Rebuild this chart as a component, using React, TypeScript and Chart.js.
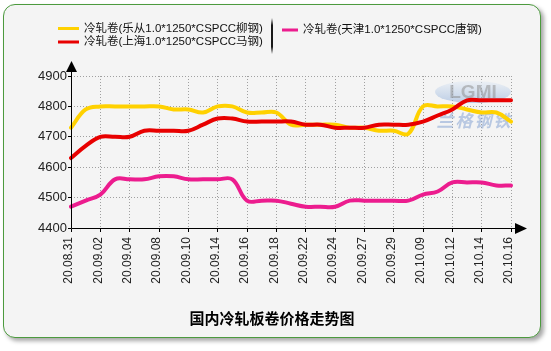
import React, { useEffect, useRef } from 'react';
import { Chart, registerables } from 'chart.js';

Chart.register(...registerables);

const dates = [
  '20.08.31', '20.09.01', '20.09.02', '20.09.03', '20.09.04', '20.09.07', '20.09.08', '20.09.09',
  '20.09.10', '20.09.11', '20.09.14', '20.09.15', '20.09.16', '20.09.17', '20.09.18', '20.09.21',
  '20.09.22', '20.09.23', '20.09.24', '20.09.25', '20.09.27', '20.09.28', '20.09.29', '20.09.30',
  '20.10.09', '20.10.10', '20.10.12', '20.10.13', '20.10.14', '20.10.15', '20.10.16',
];

const seriesNames = [
  '冷轧卷(乐从1.0*1250*CSPCC柳钢)',
  '冷轧卷(上海1.0*1250*CSPCC马钢)',
  '冷轧卷(天津1.0*1250*CSPCC唐钢)',
];

const lecong = [
  4730, 4790, 4800, 4800, 4800, 4800, 4800, 4790, 4790, 4780, 4800, 4800, 4780, 4780, 4780, 4740,
  4740, 4740, 4740, 4730, 4730, 4720, 4720, 4710, 4800, 4800, 4800, 4790, 4780, 4780, 4750,
];
const shanghai = [
  4630, 4670, 4700, 4700, 4700, 4720, 4720, 4720, 4720, 4740, 4760, 4760, 4750, 4750, 4750, 4750,
  4740, 4740, 4730, 4730, 4730, 4740, 4740, 4740, 4750, 4770, 4790, 4820, 4820, 4820, 4820,
];
const tianjin = [
  4470, 4490, 4510, 4560, 4560, 4560, 4570, 4570, 4560, 4560, 4560, 4560, 4490, 4490, 4490, 4480,
  4470, 4470, 4470, 4490, 4490, 4490, 4490, 4490, 4510, 4520, 4550, 4550, 4550, 4540, 4540,
];

const yTicks = [4400, 4500, 4600, 4700, 4800, 4900];
const chartTitle = '国内冷轧板卷价格走势图';
const watermarkLogo = 'LGMI';
const watermarkName = '兰格钢铁';

const colors = ['#FFD100', '#E80000', '#EC1C8E'];

const LATIN = '"Liberation Sans", "Noto Sans CJK SC", sans-serif';
const CJK = '"Noto Sans CJK SC", sans-serif';

const decorPlugin = {
  id: 'decor',
  beforeDatasetsDraw(chart: any) {
    const ctx = chart.ctx as CanvasRenderingContext2D;
    const { right, top } = chart.chartArea;
    const wx = right - 38;
    const wy = top + 16;
    ctx.save();
    ctx.globalAlpha = 0.5;
    ctx.beginPath();
    ctx.ellipse(wx, wy, 38, 11, 0, 0, Math.PI * 2);
    const g = ctx.createLinearGradient(0, wy - 11, 0, wy + 11);
    g.addColorStop(0, '#e4ecf6');
    g.addColorStop(1, '#86a8d6');
    ctx.fillStyle = g;
    ctx.fill();
    ctx.font = `bold 19px ${LATIN}`;
    ctx.fillStyle = '#8a8a8a';
    ctx.textAlign = 'center';
    ctx.textBaseline = 'middle';
    ctx.fillText(watermarkLogo, wx, wy + 1);
    ctx.font = `italic bold 17px ${CJK}`;
    ctx.fillStyle = '#7c9cd0';
    const chars = Array.from(watermarkName);
    chars.forEach((ch, i) => {
      ctx.fillText(ch, wx - 28 + i * 19, wy + 29);
    });
    ctx.restore();
  },
  afterDraw(chart: any) {
    const ctx = chart.ctx as CanvasRenderingContext2D;
    const { left, bottom } = chart.chartArea;
    const L = Math.round(left) + 0.5;
    const B = Math.round(bottom) + 0.5;
    ctx.save();
    // axes
    ctx.strokeStyle = '#000';
    ctx.lineWidth = 1;
    ctx.beginPath();
    ctx.moveTo(L, B);
    ctx.lineTo(L, 70);
    ctx.moveTo(L, B);
    ctx.lineTo(516, B);
    ctx.stroke();
    ctx.fillStyle = '#000';
    ctx.beginPath();
    ctx.moveTo(L, 61);
    ctx.lineTo(L - 5.5, 72);
    ctx.lineTo(L + 5.5, 72);
    ctx.closePath();
    ctx.fill();
    ctx.beginPath();
    ctx.moveTo(527, B);
    ctx.lineTo(515, B - 5.5);
    ctx.lineTo(515, B + 5.5);
    ctx.closePath();
    ctx.fill();

    // legend
    const items = [
      { x: 58, len: 21, y: 28.5, tx: 84 },
      { x: 58, len: 21, y: 42, tx: 84 },
      { x: 282, len: 16, y: 30, tx: 303 },
    ];
    ctx.font = `11.5px ${LATIN}`;
    ctx.textAlign = 'left';
    ctx.textBaseline = 'middle';
    items.forEach((it, i) => {
      ctx.strokeStyle = colors[i];
      ctx.lineWidth = 3;
      ctx.beginPath();
      ctx.moveTo(it.x, it.y);
      ctx.lineTo(it.x + it.len, it.y);
      ctx.stroke();
      ctx.fillStyle = '#111';
      ctx.fillText(seriesNames[i], it.tx, it.y);
    });
    const sg = ctx.createLinearGradient(0, 18, 0, 54);
    sg.addColorStop(0, 'rgba(0,0,0,0)');
    sg.addColorStop(0.2, 'rgba(0,0,0,0.9)');
    sg.addColorStop(0.8, 'rgba(0,0,0,0.9)');
    sg.addColorStop(1, 'rgba(0,0,0,0)');
    ctx.fillStyle = sg;
    ctx.fillRect(271, 18, 2, 36);

    // title
    ctx.font = `bold 15px ${CJK}`;
    ctx.fillStyle = '#000';
    ctx.textAlign = 'center';
    ctx.fillText(chartTitle, 272, 318);
    ctx.restore();
  },
};

export default function App() {
  const ref = useRef<HTMLCanvasElement>(null);
  useEffect(() => {
    if (!ref.current) return;
    const chart = new Chart(ref.current, {
      type: 'line',
      data: {
        labels: dates,
        datasets: [
          { label: seriesNames[0], data: lecong, borderColor: colors[0], order: 3 },
          { label: seriesNames[1], data: shanghai, borderColor: colors[1], order: 1 },
          { label: seriesNames[2], data: tianjin, borderColor: colors[2], order: 2 },
        ].map((d) => ({
          ...d,
          borderWidth: 4,
          tension: 0.4,
          pointRadius: 0,
          fill: false,
          borderCapStyle: 'round' as const,
          borderJoinStyle: 'round' as const,
        })),
      },
      options: {
        responsive: false,
        animation: false,
        devicePixelRatio: 1,
        layout: { padding: { top: 76, right: 40, left: 0, bottom: 0 } },
        plugins: {
          legend: { display: false },
          title: { display: false },
          tooltip: { enabled: false },
        },
        scales: {
          x: {
            type: 'category',
            afterFit: (s: any) => {
              s.height = 123;
            },
            grid: {
              color: (c: any) => (c.index % 2 === 0 ? '#a0a0a0' : 'rgba(0,0,0,0)'),
              tickColor: (c: any) => (c.index % 2 === 0 ? '#000' : 'rgba(0,0,0,0)'),
              tickLength: 4,
              lineWidth: 1,
            },
            border: { display: false, dash: [1, 2] },
            ticks: {
              autoSkip: false,
              minRotation: 90,
              maxRotation: 90,
              padding: 5,
              labelOffset: -2,
              color: '#222',
              font: { family: LATIN, size: 12 },
              callback: (_v: any, i: number) => (i % 2 === 0 ? dates[i] : ''),
            },
          },
          y: {
            min: yTicks[0],
            max: yTicks[yTicks.length - 1],
            afterFit: (s: any) => {
              s.width = 71;
            },
            grid: {
              color: '#a0a0a0',
              tickColor: '#000',
              tickLength: 3,
              lineWidth: 1,
            },
            border: { display: false, dash: [1, 2] },
            ticks: {
              stepSize: yTicks[1] - yTicks[0],
              padding: 1,
              color: '#222',
              font: { family: LATIN, size: 13 },
              callback: (v: any) => String(v),
            },
          },
        },
      },
      plugins: [decorPlugin],
    });
    return () => chart.destroy();
  }, []);

  return (
    <div style={{ position: 'absolute', left: 0, top: 0, width: 551, height: 351, background: '#fff', overflow: 'hidden' }}>
      <div
        style={{
          position: 'absolute',
          left: 3,
          top: 4,
          width: 538,
          height: 334,
          boxSizing: 'border-box',
          border: '1.5px solid #4C9A3E',
          borderRadius: 12,
          background: '#F4F4F4',
          boxShadow: '3px 3px 4px rgba(0,0,0,0.35)',
        }}
      />
      <canvas ref={ref} width={551} height={351} style={{ position: 'absolute', left: 0, top: 0 }} />
    </div>
  );
}
